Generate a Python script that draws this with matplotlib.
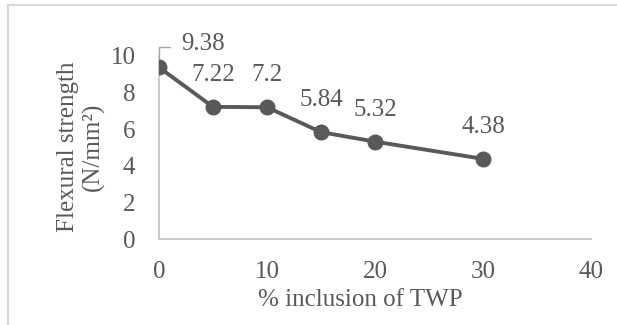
import matplotlib
matplotlib.use("Agg")
import matplotlib.pyplot as plt
from matplotlib.lines import Line2D

# TWP content (%) and measured flexural strength (N/mm2)
twp_pct = [0, 5, 10, 15, 20, 30]
flex_strength = [9.38, 7.22, 7.2, 5.84, 5.32, 4.38]
x_ticks = [0, 10, 20, 30, 40]
y_ticks = [0, 2, 4, 6, 8, 10]

grey = "#595959"
fs = 18
plt.rcParams["font.family"] = ["Liberation Serif", "DejaVu Serif"]
plt.rcParams["font.size"] = fs

fig = plt.figure(figsize=(6.17, 3.25), dpi=100)
ax = fig.add_axes([0.2577, 0.2646, 0.7002, 0.5631])

ax.plot(twp_pct, flex_strength, color=grey, linewidth=2.8,
        marker="o", markersize=10.5, zorder=3)

# value labels above each point; the first one sits off to the side with a leader
for i, (x, y) in enumerate(zip(twp_pct, flex_strength)):
    label = f"{y:g}"
    if i == 0:
        ax.annotate(label, (x, y), xytext=(16, 16.5), textcoords="offset points",
                    ha="left", va="center", color=grey,
                    arrowprops=dict(arrowstyle="-", color="#a6a6a6", lw=1,
                                    connectionstyle="angle,angleA=0,angleB=90,rad=0",
                                    relpos=(0, 0.4), shrinkA=6, shrinkB=7))
    else:
        ax.annotate(label, (x, y), xytext=(0, 23), textcoords="offset points",
                    ha="center", va="center", color=grey)

ax.set_xlim(0, 40)
ax.set_ylim(0, 10)
ax.set_xticks(x_ticks)
ax.set_yticks(y_ticks)
ax.tick_params(length=0, colors=grey, labelsize=fs)
ax.tick_params(axis="y", pad=17)
ax.tick_params(axis="x", pad=16)

for side in ["top", "right"]:
    ax.spines[side].set_visible(False)
for side in ["left", "bottom"]:
    ax.spines[side].set_color("#c6c6c6")
    ax.spines[side].set_linewidth(1.3)

fig.text(360 / 617, 1 - 300 / 325, "% inclusion of TWP", ha="center", va="center",
         color=grey, fontsize=fs)
fig.text(81 / 617, 1 - 147 / 325, "Flexural strength\n(N/mm²)", rotation=90,
         ha="center", va="center", multialignment="center", color=grey,
         fontsize=fs, linespacing=1.2)

# chart frame
fig.add_artist(Line2D([8 / 617, 8 / 617], [0, 1 - 5 / 325], color="#d9d9d9", lw=1.5))
fig.add_artist(Line2D([8 / 617, 1], [1 - 5 / 325, 1 - 5 / 325], color="#d9d9d9", lw=1.5))

fig.savefig("out.png", dpi=100)
